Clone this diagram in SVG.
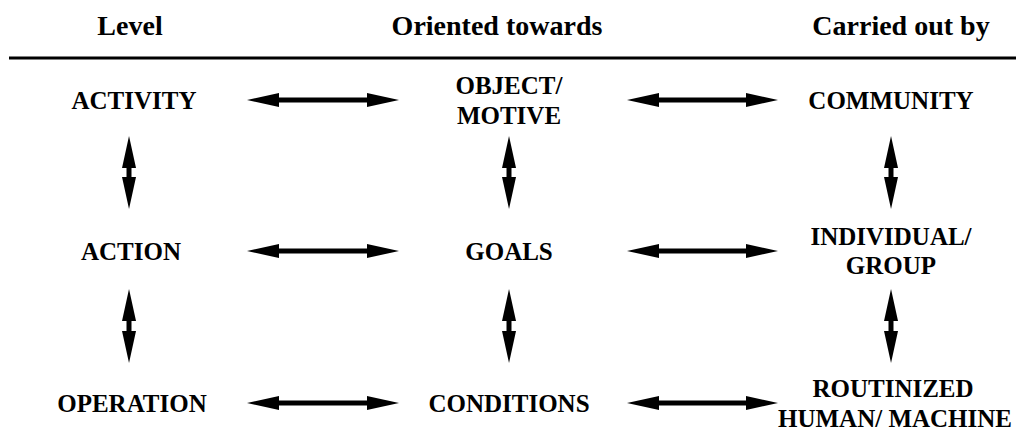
<svg xmlns="http://www.w3.org/2000/svg" width="1016" height="432" viewBox="0 0 1016 432">
<style>
.h{font-family:"Liberation Serif","Times New Roman",serif;font-weight:bold;font-size:28px;text-anchor:middle;fill:#000}
.n{font-family:"Liberation Serif","Times New Roman",serif;font-weight:bold;font-size:25px;text-anchor:middle;fill:#000}
.a{stroke:#000;stroke-width:5;fill:none;marker-start:url(#ah);marker-end:url(#ah)}
</style>
<defs>
<marker id="ah" viewBox="0 0 32 14" refX="12" refY="7" markerWidth="32" markerHeight="14" markerUnits="userSpaceOnUse" orient="auto-start-reverse">
<path d="M0,0 L32,7 L0,14 z" fill="#000"/>
</marker>
</defs>
<rect width="1016" height="432" fill="#fff"/>
<g id="header">
<text class="h" x="130" y="35">Level</text>
<text class="h" x="497" y="35">Oriented towards</text>
<text class="h" x="901" y="35">Carried out by</text>
<line x1="9" y1="58" x2="1016" y2="58" stroke="#000" stroke-width="3"/>
</g>
<g id="activity"><text class="n" x="134" y="109">ACTIVITY</text></g>
<g id="object-motive"><text class="n" x="509" y="94">OBJECT/</text><text class="n" x="509" y="124">MOTIVE</text></g>
<g id="community"><text class="n" x="891" y="109">COMMUNITY</text></g>
<g id="action"><text class="n" x="131" y="260">ACTION</text></g>
<g id="goals"><text class="n" x="509" y="260">GOALS</text></g>
<g id="individual-group"><text class="n" x="891" y="245">INDIVIDUAL/</text><text class="n" x="891" y="274">GROUP</text></g>
<g id="operation"><text class="n" x="132" y="412">OPERATION</text></g>
<g id="conditions"><text class="n" x="509" y="412">CONDITIONS</text></g>
<g id="routinized"><text class="n" x="893" y="397">ROUTINIZED</text><text class="n" x="895" y="427">HUMAN/ MACHINE</text></g>
<g id="connectors">
<line class="a" x1="267" y1="100" x2="379" y2="100"/>
<line class="a" x1="647" y1="100" x2="758" y2="100"/>
<line class="a" x1="267" y1="251" x2="379" y2="251"/>
<line class="a" x1="647" y1="251" x2="758" y2="251"/>
<line class="a" x1="267" y1="403" x2="379" y2="403"/>
<line class="a" x1="647" y1="403" x2="758" y2="403"/>
<line class="a" x1="129" y1="156" x2="129" y2="189"/>
<line class="a" x1="509" y1="156" x2="509" y2="189"/>
<line class="a" x1="891" y1="156" x2="891" y2="189"/>
<line class="a" x1="129" y1="309" x2="129" y2="343"/>
<line class="a" x1="509" y1="309" x2="509" y2="343"/>
<line class="a" x1="891" y1="309" x2="891" y2="343"/>
</g>
</svg>
